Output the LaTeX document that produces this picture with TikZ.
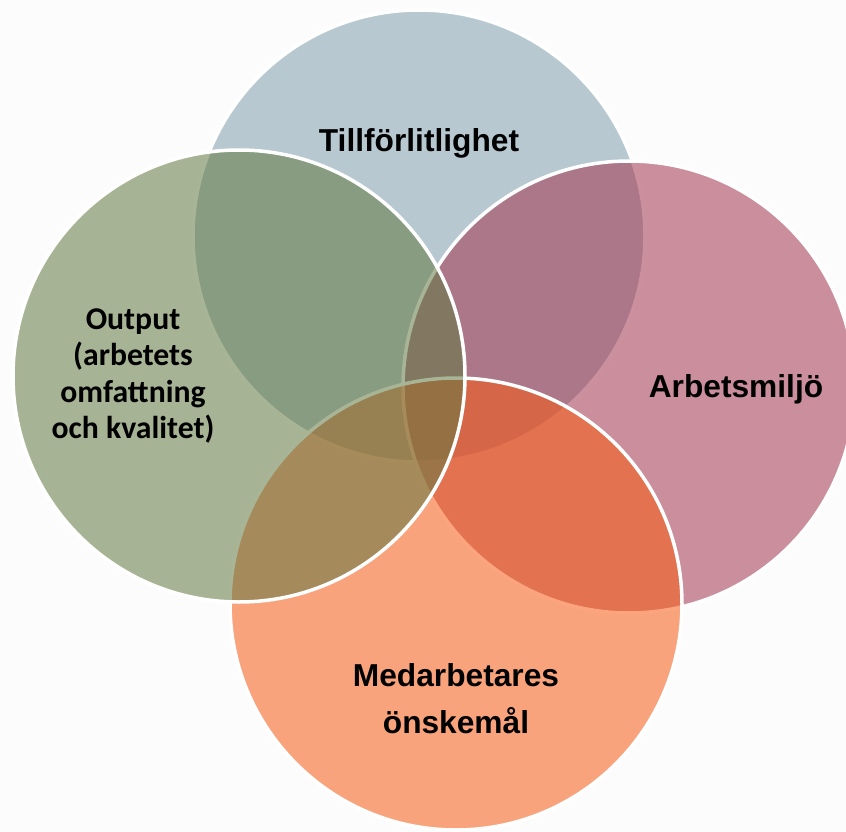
\documentclass[tikz,border=0pt]{standalone}
\usepackage{fontspec}
\setmainfont{Liberation Sans}
\newfontfamily\calibri{Carlito}
\usetikzlibrary{positioning}

\definecolor{bgcol}{RGB}{252,252,252}
\definecolor{tillfblue}{RGB}{128,159,175}
\definecolor{miljopink}{RGB}{162,53,79}
\definecolor{onskeorange}{RGB}{248,91,19}
\definecolor{outputgreen}{RGB}{97,120,64}

\begin{document}
\begin{tikzpicture}[
        x=1pt, y=-1pt,
        venn/.style={circle, draw=white, line width=3.5pt, minimum size=452pt, inner sep=0pt, fill opacity=0.55},
        vtext/.style={font=\bfseries\fontsize{31.7}{47}\selectfont, align=center, inner sep=0pt},
        otext/.style={font=\calibri\bfseries\fontsize{31.7}{36.5}\selectfont, align=center, inner sep=0pt}
    ]

    \path[use as bounding box, fill=bgcol] (0,0) rectangle (846,832);

    % Circles
    \node[venn, fill=tillfblue] (tillf) at (419,236) {};
    \node[venn, fill=miljopink] (miljo) at (629,387) {};
    \node[venn, fill=onskeorange] (onske) at (456,604) {};
    \node[venn, fill=outputgreen] (output) at (239,376) {};

    % Texts
    \node[vtext] (tillftext) at (419,143) {Tillförlitlighet};
    \node[vtext] (miljotext) at (736,389) {Arbetsmiljö};
    \node[vtext] (onsketext) at (456,699) {Medarbetares \\ önskemål};
    \node[otext] (outputtext) at (133,376) {Output \\ (arbetets \\ omfattning \\ och kvalitet)};

\end{tikzpicture}
\end{document}
